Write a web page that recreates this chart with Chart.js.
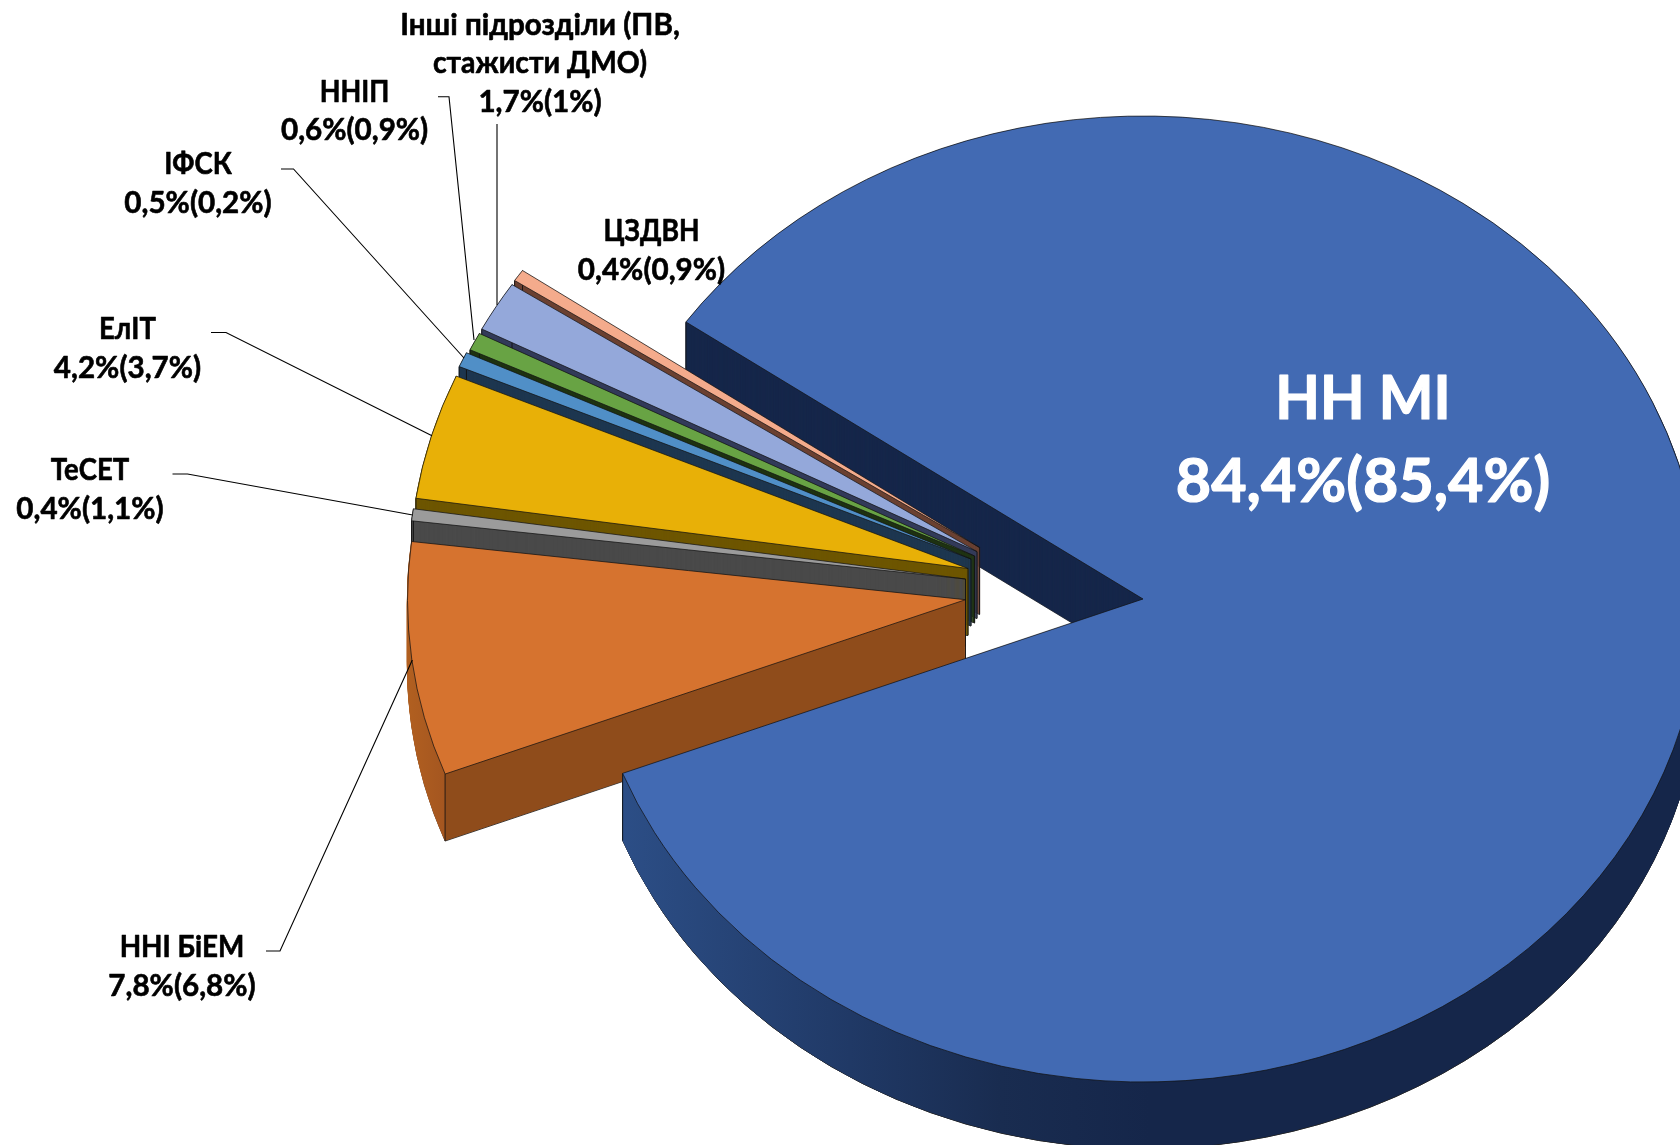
<!DOCTYPE html>
<html>
<head>
<meta charset="utf-8">
<script src="https://cdn.jsdelivr.net/npm/chart.js@4"></script>
<style>html,body{margin:0;padding:0;background:#fff;overflow:hidden}canvas{display:block}</style>
</head>
<body>
<canvas id="c" width="1680" height="1145"></canvas>
<script>
// ---- data ----
const categories = ['НН МІ','ННІ БіЕМ','ТеСЕТ','ЕлІТ','ІФСК','ННІП','Інші підрозділи (ПВ, стажисти ДМО)','ЦЗДВН'];
const shares = [84.4,7.8,0.4,4.2,0.5,0.6,1.7,0.4];
const shareLabels = ['84,4%(85,4%)','7,8%(6,8%)','0,4%(1,1%)','4,2%(3,7%)','0,5%(0,2%)','0,6%(0,9%)','1,7%(1%)','0,4%(0,9%)'];
const nameLines = [['НН МІ'],['ННІ БіЕМ'],['ТеСЕТ'],['ЕлІТ'],['ІФСК'],['ННІП'],['Інші підрозділи (ПВ,','стажисти ДМО)'],['ЦЗДВН']];
// ---- styles ----
const topColors = ['#426AB3','#D6732F','#9B9B9B','#E8B007','#508FC7','#68A344','#94A8DA','#F4AB8C'];
const wallColors = ['#16274A','#8F4C1B','#4A4A4A','#6E5600','#1E3750','#1F3312','#333B5A','#6B4132'];
const nameFit = [[0.95],[0.94],[0.93],[0.93],[0.93],[0.91],[1,0.96],[0.9]];
// ---- exploded layout: where each slice's apex sits on the picture ----
const apexX = [1143,965.5,965.5,968,971,974.6,977,979.6];
const apexY = [599,599.7,579,568.5,559,556,551.6,547.5];
const radiusX = 558, radiusY = 483, depth = 67;
const labelX = [1363,182,90,127.5,198,354.6,540,651.5];
const labelY = [399,947,470,329.5,164,92,25,231];
const labelStep = [83,39,39.5,38.5,39,38.6,38.6,39];
const leaders = [null,
 [[266,951],[280,951],[412.3,660]],
 [[172.5,474],[187.5,474],[412.7,515]],
 [[211,332.5],[226,332.5],[432,435.7]],
 [[281,169],[293.5,169],[464,358]],
 [[438,96.7],[449,96.7],[474,340]],
 [[497,124],[497,305]],
 null];

function arcOpts(fill, stroke, width){
  return {backgroundColor:fill,borderColor:stroke,borderWidth:width,borderAlign:'center',
    borderJoinStyle:'round',borderDash:[],borderDashOffset:0,borderRadius:0,offset:0,spacing:0,circular:true,selfJoin:false};
}
function place(ctx, arc, i, dz){
  const R = arc.outerRadius;
  ctx.translate(apexX[i], apexY[i]+dz);
  ctx.scale(radiusX/R, radiusY/R);
  ctx.translate(-arc.x, -arc.y);
}
function userX(arc,i,sx){ return arc.x + (sx-apexX[i])*arc.outerRadius/radiusX; }
function gradientFill(ctx, arc, i, stops){
  const a = stops[0][0], b = stops[stops.length-1][0];
  const g = ctx.createLinearGradient(userX(arc,i,a),0,userX(arc,i,b),0);
  stops.forEach(s=>g.addColorStop((s[0]-a)/(b-a),s[1]));
  return g;
}
function drawTop(ctx, arc, i){
  ctx.save(); place(ctx,arc,i,0);
  const keep = arc.options;
  arc.options = arcOpts(topColors[i],'#111',0.8);
  arc.draw(ctx);
  arc.options = keep;
  ctx.restore();
}
function drawWall(ctx, arc, i, fill){
  const keep = arc.options;
  // bottom rim first, with an outline; then the column of copies up to the top
  for(let k=depth;k>=1;k--){
    ctx.save(); place(ctx,arc,i,k);
    arc.options = k===depth ? arcOpts(fill,'#222',0.9) : arcOpts(fill,fill,1.2);
    arc.draw(ctx);
    ctx.restore();
  }
  arc.options = keep;
  ctx.strokeStyle='#111'; ctx.lineWidth=0.9;
  const pts = [[apexX[i],apexY[i]]];
  [arc.startAngle,arc.endAngle].forEach(t=>pts.push([apexX[i]+radiusX*Math.cos(t),apexY[i]+radiusY*Math.sin(t)]));
  pts.forEach(p=>{ctx.beginPath();ctx.moveTo(p[0],p[1]);ctx.lineTo(p[0],p[1]+depth);ctx.stroke();});
}
const slicePlugin = {
  id:'slices',
  beforeDatasetDraw(chart){
    const ctx = chart.ctx, arcs = chart.getDatasetMeta(0).data;
    ctx.save();
    drawWall(ctx,arcs[0],0,wallColors[0]);
    for(let i=arcs.length-1;i>=1;i--){
      const fill = i===1
        ? gradientFill(ctx,arcs[1],1,[[405,'#B26020'],[445.5,'#A45620'],[446,wallColors[1]],[1000,wallColors[1]]])
        : wallColors[i];
      drawWall(ctx,arcs[i],i,fill);
      drawTop(ctx,arcs[i],i);
    }
    // outer wall of the big slice passes in front of the exploded slices
    ctx.save(); ctx.beginPath(); ctx.rect(0,630,chart.width,chart.height-630); ctx.clip();
    drawWall(ctx,arcs[0],0,gradientFill(ctx,arcs[0],0,[[622,'#2C4E86'],[850,'#203966'],[1000,'#192C50'],[1150,'#15264A'],[1700,'#15264A']]));
    ctx.restore();
    drawTop(ctx,arcs[0],0);
    ctx.restore();
    return false;
  },
  afterDatasetsDraw(chart){
    const ctx = chart.ctx;
    ctx.save();
    leaders.forEach(l=>{
      if(!l) return;
      ctx.strokeStyle='#000'; ctx.lineWidth=1.1;
      ctx.beginPath(); l.forEach((p,j)=>j?ctx.lineTo(p[0],p[1]):ctx.moveTo(p[0],p[1])); ctx.stroke();
    });
    ctx.textAlign='center'; ctx.textBaseline='middle'; ctx.lineJoin='round';
    categories.forEach((c,i)=>{
      const col = i===0?'#fff':'#000';
      ctx.fillStyle = col; ctx.strokeStyle = col;
      ctx.lineWidth = i===0?1.2:0.6;
      ctx.font = (i===0?'bold 61px':'bold 29.6px')+' Lato, "Open Sans", sans-serif';
      nameLines[i].concat(shareLabels[i]).forEach((t,j)=>{
        const y = labelY[i]+j*labelStep[i];
        const w = ctx.measureText(t).width*(j<nameFit[i].length?nameFit[i][j]:1);
        ctx.fillText(t,labelX[i],y,w);
        ctx.strokeText(t,labelX[i],y,w);
      });
    });
    ctx.restore();
  }
};
new Chart(document.getElementById('c'),{
  type:'pie',
  data:{labels:categories,datasets:[{data:shares,backgroundColor:topColors,borderWidth:0}]},
  options:{
    responsive:false,animation:false,rotation:305,
    layout:{padding:0},
    plugins:{legend:{display:false},tooltip:{enabled:false}}
  },
  plugins:[slicePlugin]
});
</script>
</body>
</html>
